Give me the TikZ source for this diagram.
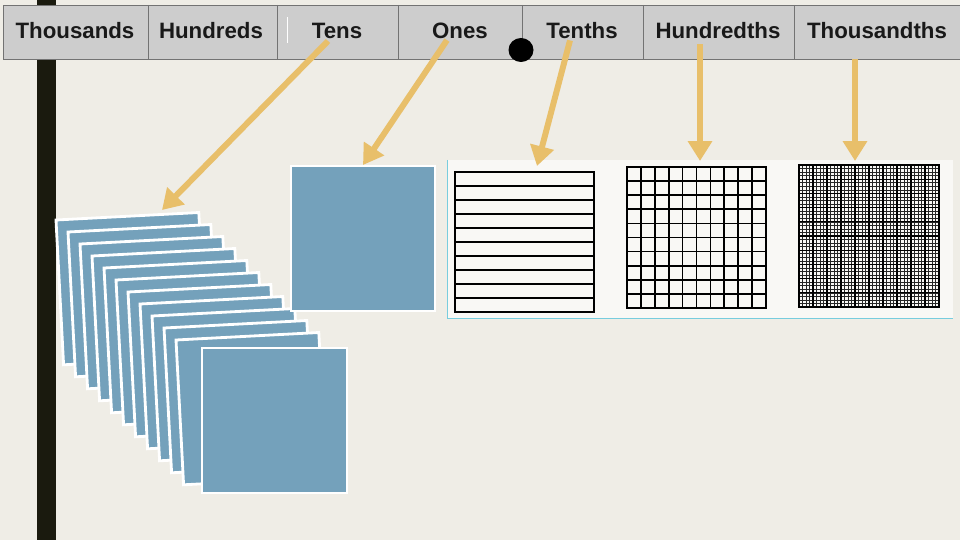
\documentclass[tikz,border=0pt]{standalone}
\usepackage{fontspec}
\setmainfont{Liberation Sans}
\usetikzlibrary{arrows.meta,positioning,calc}
\definecolor{paper}{RGB}{239,237,230}
\definecolor{headgray}{RGB}{205,205,205}
\definecolor{tan}{RGB}{232,191,106}
\definecolor{sheetblue}{RGB}{116,161,187}
\definecolor{panelline}{RGB}{120,205,222}
\definecolor{barblack}{RGB}{26,26,14}

\begin{document}
\begin{tikzpicture}[x=0.03cm,y=-0.03cm,
	place/.style={font=\fontsize{19}{22}\selectfont\bfseries, text=black!90, inner sep=0pt},
	pointer/.style={tan, line width=5.1pt, -{Triangle[width=20pt,length=17pt]}},
	sheet/.style={fill=sheetblue, draw=white, line width=2.4pt},
	gridline/.style={black, line width=1.5pt}]

		\useasboundingbox (0,0) rectangle (960,540);
		\fill[paper] (0,0) rectangle (960,540);
		\fill[barblack] (37,0) rectangle (56,540);

		% place value header
		\filldraw[fill=headgray, draw=black!55, line width=0.8pt] (3,5) rectangle (960,59);
		\foreach \x in {148,277,398,522,643,794}
		\draw[black!55, line width=0.8pt] (\x,5) -- (\x,59);
		\draw[white, line width=0.8pt] (287,17) -- (287,43);

		\node[place] (thousands) at (75,31) {Thousands};
		\node[place] (hundreds) at (211,31) {Hundreds};
		\node[place] (tens) at (337,31) {Tens};
		\node[place] (ones) at (460,31) {Ones};
		\node[place] (tenths) at (582,31) {Tenths};
		\node[place] (hundredths) at (718,31) {Hundredths};
		\node[place] (thousandths) at (877,31) {Thousandths};

		\fill[black] (521,50) ellipse (12.5 and 12);

		% tens: stack of squares
		\foreach \i in {0,...,10}
		\draw[sheet, rotate around={3:(56+12*\i,220+12*\i)}] (56+12*\i,220+12*\i) rectangle +(143,145);
		\draw[sheet] (202,348) rectangle (347,493);
		\coordinate (tensto) at (162,210);

		% ones
		\draw[sheet] (291,166) rectangle (435,311);
		\coordinate (onesto) at (363,165);

		% decimal grids
		\fill[white!60!paper] (447,160) rectangle (953,318);
		\draw[panelline, line width=0.8pt] (447,160) -- (447,318) -- (953,318);

		\foreach \y in {186,200,...,298}
		\draw[gridline] (455,\y) -- (594,\y);
		\draw[black, line width=2pt] (455,172) rectangle (594,312);
		\coordinate (tenthsto) at (537,166);

		\foreach \k in {1,...,9} {
			\draw[gridline] (627+13.9*\k,167) -- (627+13.9*\k,308);
			\draw[gridline] (627,167+14.1*\k) -- (766,167+14.1*\k);
		}
		\draw[black, line width=2pt] (627,167) rectangle (766,308);
		\coordinate (hundredthsto) at (700,161);

		\foreach \k in {1,...,39} {
			\draw[black!85, line width=0.5pt] (799+3.5*\k,165) -- (799+3.5*\k,307);
			\draw[black!85, line width=0.5pt] (799,165+3.55*\k) -- (939,165+3.55*\k);
		}
		\foreach \k in {1,...,9} {
			\draw[black, line width=1.1pt] (799+14*\k,165) -- (799+14*\k,307);
			\draw[black, line width=1.1pt] (799,165+14.2*\k) -- (939,165+14.2*\k);
		}
		\draw[black, line width=2pt] (799,165) rectangle (939,307);
		\coordinate (thousandthsto) at (855,161);

		% arrows
		\draw[pointer] ($(tens.south)+(-9,2)$) -- (tensto);
		\draw[pointer] ($(ones.south)+(-13,1)$) -- (onesto);
		\draw[pointer] ($(tenths.south)+(-12,1)$) -- (tenthsto);
		\draw[pointer] ($(hundredths.south)+(-18,5)$) -- (hundredthsto);
		\draw[pointer] (thousandths.south -| thousandthsto) ++(0,20) -- (thousandthsto);

\end{tikzpicture}
\end{document}
